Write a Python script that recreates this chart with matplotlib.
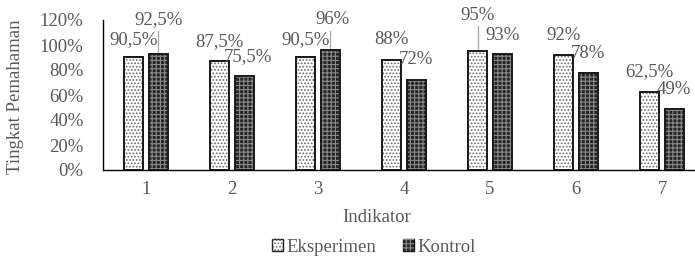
import matplotlib
matplotlib.use('Agg')
from matplotlib import pyplot as plt
from matplotlib.patches import Rectangle
import numpy as np

# data
indikator = ['1', '2', '3', '4', '5', '6', '7']
eksperimen = [90.5, 87.5, 90.5, 88, 95, 92, 62.5]
kontrol = [92.5, 75.5, 96, 72, 93, 78, 49]

# where the value labels sit (y in data units, x offset in category units)
lab_y_eks = [104, 102.5, 104, 104, 124, 108, 78.5]
lab_y_kon = [120, 91, 120, 88, 108, 93.5, 64]
lab_dx_kon = [0, 0.045, 0.03, 0, 0, 0, 0]
leader_kon = [True, False, True, False, False, False, False]
leader_eks = [False, False, False, False, True, False, False]

TXT = '#595959'
FS = 13.5
plt.rcParams['font.family'] = ['Liberation Serif', 'DejaVu Serif']
plt.rcParams['hatch.linewidth'] = 0.8

fig = plt.figure(figsize=(6.95, 2.61), dpi=100)
ax = fig.add_axes([103/695, 91/261, 592/695, 150/261])

x = np.arange(1, len(indikator) + 1)
w = 0.22
off = 0.143


def hatched_bars(xs, vals, face, hcol, hatch):
    ax.bar(xs, vals, w, color=face, edgecolor='#1a1a1a', linewidth=1.3, zorder=2)
    ax.bar(xs, vals, w, color='none', edgecolor=hcol, hatch=hatch, linewidth=0, zorder=3)
    ax.bar(xs, vals, w, color='none', edgecolor='#1a1a1a', linewidth=1.3, zorder=4)


hatched_bars(x - off, eksperimen, 'white', '#666666', '.....')
hatched_bars(x + off, kontrol, '#262626', '#8a8a8a', '++++')


def fmt(v):
    s = ('%g' % v).replace('.', ',')
    return s + '%'


for i in range(len(x)):
    xe = x[i] - off
    xk = x[i] + off + lab_dx_kon[i]
    ax.text(xe, lab_y_eks[i], fmt(eksperimen[i]), ha='center', va='center',
            fontsize=FS, color=TXT, zorder=5)
    ax.text(xk, lab_y_kon[i], fmt(kontrol[i]), ha='center', va='center',
            fontsize=FS, color=TXT, zorder=5)
    if leader_kon[i]:
        ax.plot([x[i] + off, x[i] + off], [lab_y_kon[i] - 9, kontrol[i]],
                color='#a6a6a6', lw=0.9, zorder=1)
    if leader_eks[i]:
        ax.plot([xe, xe], [lab_y_eks[i] - 9, eksperimen[i]],
                color='#a6a6a6', lw=0.9, zorder=1)

ax.set_xlim(0.5, 7.384)
ax.set_ylim(0, 120)
ax.set_yticks(np.arange(0, 121, 20))
ax.set_yticklabels(['%d%%' % v for v in range(0, 121, 20)])
ax.set_xticks(x)
ax.set_xticklabels(indikator)
ax.tick_params(length=0, labelsize=FS, colors=TXT)
ax.tick_params(axis='x', pad=8)
ax.tick_params(axis='y', pad=14)
for s in ['top', 'right']:
    ax.spines[s].set_visible(False)
for s in ['left', 'bottom']:
    ax.spines[s].set_color('black')
    ax.spines[s].set_linewidth(1.0)

fig.text(16/695, 1 - 97/261, 'Tingkat Pemahaman', rotation=90, ha='center',
         va='center', fontsize=FS, color=TXT)
fig.text(377/695, 1 - 218/261, 'Indikator', ha='center', va='center',
         fontsize=FS, color=TXT)

handles = []
for face, hcol, hatch in [('white', '#666666', '.....'), ('#262626', '#8a8a8a', '++++')]:
    p1 = Rectangle((0, 0), 1, 1, facecolor=face, edgecolor='#1a1a1a', linewidth=1.0)
    p2 = Rectangle((0, 0), 1, 1, facecolor='none', edgecolor=hcol, hatch=hatch, linewidth=0)
    handles.append((p1, p2))
fig.legend(handles, ['Eksperimen', 'Kontrol'], loc='center',
           bbox_to_anchor=(374/695, 1 - 247/261), ncol=2, frameon=False,
           fontsize=FS, labelcolor=TXT, handlelength=0.6, handleheight=0.6,
           handletextpad=0.2, columnspacing=1.4, borderpad=0)

fig.savefig('out.png', dpi=100)
